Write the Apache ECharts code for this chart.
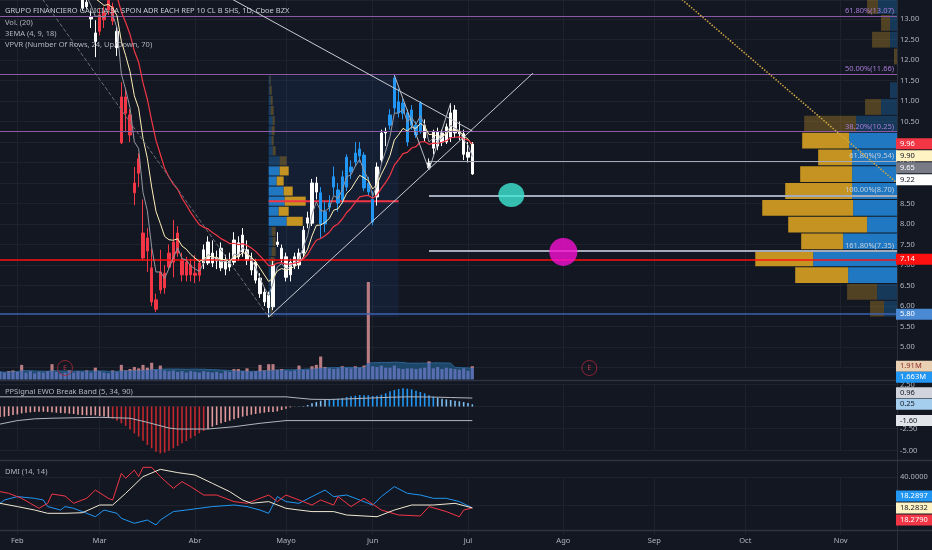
<!DOCTYPE html>
<html><head><meta charset="utf-8">
<script src="https://cdn.jsdelivr.net/npm/echarts@6.0.0/dist/echarts.min.js"></script>
<style>html,body{margin:0;padding:0;background:#131722;}#c{width:932px;height:550px;}</style>
</head><body><div id="c"></div>
<script>
// ---------------- DATA ----------------
const HOLIDAYS = ['2020-02-17','2020-04-10','2020-05-25','2020-07-03','2020-09-07'];
const AXIS_START = '2020-01-28', AXIS_END = '2020-11-19';
const MONTH_NAMES = ['Ene','Feb','Mar','Abr','Mayo','Jun','Jul','Ago','Sep','Oct','Nov','Dic'];

// [open, close, low, high] from 2020-01-28 to 2020-07-02
const ohlc = [
[15.6,15.9,15.4,16.1],[15.9,15.5,15.3,16.0],[15.4,15.2,14.9,15.5],[15.2,14.8,14.6,15.4],[14.8,15.1,14.7,15.3],
[15.1,15.4,15.0,15.6],[15.4,15.0,14.9,15.5],[15.0,14.7,14.5,15.1],[14.7,14.9,14.5,15.1],[14.9,14.6,14.4,15.0],
[14.6,14.8,14.5,15.0],[14.8,14.5,14.3,14.9],[14.5,14.3,14.1,14.7],[14.3,14.6,14.2,14.8],[14.6,14.4,14.2,14.7],
[14.4,14.1,13.9,14.5],[14.1,13.95,13.8,14.3],[13.95,13.8,13.6,14.1],[13.8,13.7,13.55,14.0],[13.7,13.27,13.2,13.8],
[13.3,13.41,13.25,13.55],[13.05,13.0,12.78,13.2],[12.45,12.66,12.07,12.97],[12.7,13.1,12.6,13.25],[13.15,12.98,12.78,13.3],
[13.22,13.45,13.1,13.6],[13.3,12.95,12.85,13.4],[12.7,12.3,12.1,12.8],[11.1,9.98,9.95,11.46],[11.1,10.7,10.24,11.3],
[10.66,10.17,10.0,10.8],[9.0,8.76,8.46,9.39],[9.24,9.59,8.9,9.73],[7.78,7.17,7.1,8.6],[7.34,7.66,6.83,7.9],
[6.93,6.1,6.0,7.4],[6.15,5.92,5.85,6.3],[6.39,6.83,6.3,7.37],[6.8,6.44,6.3,7.0],[6.95,7.29,6.9,7.5],
[7.07,7.56,6.7,8.1],[7.29,7.78,7.2,7.95],[7.12,6.76,6.6,7.3],[6.75,7.07,6.6,7.2],[7.0,6.76,6.6,7.15],
[6.75,6.8,6.56,7.24],[7.05,6.75,6.6,7.1],[7.05,7.37,6.9,7.5],[7.05,7.56,7.0,7.7],[7.29,7.05,6.95,7.6],
[7.1,7.17,6.9,7.35],[7.41,6.93,6.85,7.55],[6.9,7.12,6.75,7.25],[7.12,6.95,6.85,7.3],[7.07,7.61,7.0,7.8],
[7.54,7.2,7.1,7.7],[7.32,7.73,7.2,7.9],[7.37,7.12,7.0,7.6],[7.17,6.88,6.75,7.3],[7.07,6.63,6.55,7.15],
[6.68,6.3,6.2,6.8],[6.34,6.1,6.0,6.45],[6.27,5.96,5.73,6.35],[5.98,7.0,5.9,7.1],[7.5,7.56,7.44,7.8],
[7.41,7.15,7.05,7.5],[7.2,6.7,6.6,7.3],[6.76,7.07,6.6,7.15],[6.98,7.2,6.9,7.3],[7.0,7.29,6.9,7.4],
[7.29,7.85,7.2,7.95],[8.02,8.15,7.9,8.3],[8.02,9.0,7.95,9.1],[8.78,9.0,8.6,9.15],[8.76,8.0,7.66,8.9],
[8.0,8.3,7.8,8.55],[8.41,8.51,8.3,8.7],[8.9,9.15,8.7,9.4],[8.83,8.51,8.3,9.0],[8.59,9.15,8.5,9.3],
[8.9,9.63,8.8,9.7],[9.39,9.27,9.1,9.55],[9.51,9.73,9.4,10.0],[9.66,9.83,9.5,10.0],[9.68,8.88,8.8,9.75],
[9.0,8.78,8.7,9.15],[8.6,8.05,7.97,8.8],[8.66,9.39,8.45,9.5],[9.56,10.22,9.5,10.3],[10.22,10.25,9.9,10.35],
[10.41,10.66,10.3,10.8],[10.83,11.56,10.7,11.63],[10.98,10.71,10.6,11.3],[10.7,10.95,10.55,11.05],[10.71,10.0,9.9,10.8],
[10.41,10.78,10.3,10.9],[10.41,10.17,10.1,10.5],[10.25,10.95,10.2,11.0],[10.41,10.1,10.0,10.55],[9.49,9.37,9.32,9.6],
[9.85,10.24,9.7,10.3],[10.24,9.9,9.8,10.35],[10.0,10.22,9.9,10.3],[10.0,10.37,9.95,10.45],[10.12,10.71,10.0,10.95],
[10.78,10.22,10.1,10.9],[10.25,10.2,10.05,10.5],[10.2,9.7,9.56,10.3],[9.63,9.75,9.5,10.0],[9.95,9.22,9.2,10.0]
];
// PPSignal bar state: -1 down trend, 0 neutral, 1 up trend
const barState = [
0,0,0,0,0,0,0,0,0,0, 0,0,0,0,0,0,0,0,0,0, 0,0,0,-1,-1,-1,-1,0,-1,-1,
-1,-1,-1,-1,-1,-1,-1,-1,-1,-1, -1,-1,-1,-1,-1,-1,-1,0,0,0, 0,0,0,0,0,0,0,0,0,0,
0,0,0,0,0,0,0,0,0,0, 0,0,0,0,1,1,1,1,1,1, 1,1,1,1,1,1,1,0,0,0,
1,1,1,1,1,1,1,1,0,0, 0,0,0,0,0,0,0,0,0,0
];
// volume (millions)
const volumes = [
1.1,1.0,1.2,1.3,1.1,2.1,1.0,1.2,0.9,1.1,1.0,1.2,2.2,1.1,0.9,1.0,1.3,1.0,1.2,1.1,
1.3,1.0,1.7,1.2,1.0,0.9,1.3,1.1,2.1,1.3,1.5,1.8,1.6,2.1,1.7,2.4,1.4,2.0,1.3,1.2,
1.3,1.1,1.2,1.0,1.2,1.1,1.0,1.2,1.1,1.0,1.1,0.9,1.2,1.1,1.5,1.5,1.2,1.6,1.1,1.2,
2.1,1.3,2.2,2.2,1.4,1.5,1.3,1.2,1.3,2.0,1.4,1.4,1.9,2.1,3.3,1.8,1.6,1.5,1.6,1.9,
1.7,1.6,1.9,1.7,2.0,14.0,1.9,1.8,2.0,1.7,1.7,2.0,1.6,1.5,1.6,1.6,1.5,1.6,1.7,2.6,
1.6,1.8,1.5,1.7,1.6,1.5,1.4,1.6,1.26,1.91
];
// EWO histogram
const ewo = [
-1.2,-1.15,-1.08,-0.97,-0.9,-0.78,-0.7,-0.66,-0.62,-0.59,
-0.59,-0.62,-0.66,-0.7,-0.74,-0.78,-0.81,-0.85,-0.93,-0.97,
-1.0,-1.0,-1.0,-1.08,-1.15,-1.23,-1.38,-1.61,-1.91,-2.2,
-2.6,-3.05,-3.43,-3.88,-4.37,-4.75,-5.13,-5.32,-5.24,-5.02,
-4.75,-4.49,-4.19,-3.92,-3.62,-3.35,-3.05,-2.78,-2.56,-2.29,
-2.1,-1.91,-1.76,-1.61,-1.46,-1.31,-1.15,-1.04,-0.93,-0.85,
-0.78,-0.7,-0.62,-0.62,-0.55,-0.4,-0.25,-0.1,-0.02,0.02,
0.06,0.17,0.36,0.51,0.66,0.74,0.81,0.85,0.89,0.97,
1.08,1.16,1.23,1.31,1.27,1.27,1.19,1.23,1.34,1.5,
1.72,1.88,1.99,2.06,2.03,1.95,1.8,1.65,1.5,1.27,
1.12,0.97,0.89,0.81,0.74,0.66,0.59,0.51,0.4,0.25
];
const ewoUpper = [[0,1.1],[66,1.1],[69,0.95],[72,0.82],[76,0.8],[80,0.86],[85,0.95],[90,1.05],[94,1.1],[99,1.08],[104,1.02],[109,0.96]];
const ewoLower = [[0,-2.0],[4,-1.6],[8,-1.4],[12,-1.33],[23,-1.23],[30,-1.33],[34,-1.8],[39,-2.45],[41,-2.56],[48,-2.56],[54,-2.3],[60,-1.91],[66,-1.6],[109,-1.6]];
// DMI (bar index, value)
const dmiPlus = [[0,21.5],[1,23.8],[4,26.2],[8,25.0],[10,23.8],[11,19.2],[14,16.8],[15,19.2],[17,18.0],[20,14.5],[22,12.1],[24,16.8],[27,14.5],[28,11.0],[31,7.5],[34,9.8],[36,6.3],[37,9.8],[40,15.7],[43,16.8],[46,18.0],[49,19.2],[54,20.3],[57,19.2],[60,16.8],[62,14.5],[64,26.2],[66,22.7],[69,21.5],[72,26.2],[75,30.8],[77,26.2],[80,27.3],[83,23.8],[86,20.3],[88,26.2],[91,33.2],[94,28.5],[97,27.3],[100,25.0],[103,25.0],[106,22.7],[109,18.2897]];
const dmiMinus = [[0,29.7],[2,28.5],[5,25.0],[7,21.5],[9,18.0],[11,21.5],[12,28.0],[15,26.6],[17,21.5],[20,25.0],[22,30.8],[25,25.0],[26,23.8],[28,42.5],[29,39.0],[31,44.8],[32,40.2],[33,46.7],[35,46.7],[37,40.2],[40,32.0],[42,36.7],[44,33.2],[47,27.3],[50,27.3],[54,22.7],[57,21.5],[60,25.0],[62,27.3],[64,22.7],[66,27.3],[69,23.8],[72,20.3],[74,23.8],[77,20.3],[78,26.2],[81,19.2],[84,25.0],[88,16.8],[92,13.3],[97,12.6],[99,19.2],[103,15.7],[106,12.1],[107,16.8],[109,18.2790]];
const dmiAdx = [[0,21.5],[4,19.2],[8,16.8],[11,14.5],[15,14.5],[19,14.9],[23,20.3],[26,20.3],[29,28.5],[33,40.2],[37,45.3],[41,43.0],[45,41.3],[49,35.5],[53,29.7],[56,23.8],[58,21.5],[62,22.7],[66,18.0],[69,16.8],[72,15.7],[77,15.7],[80,13.3],[87,12.1],[91,16.8],[95,20.3],[100,20.3],[105,21.5],[109,18.2832]];

// VPVR (24 rows from low), relative volumes
const VPVR_LOW = 5.73, VPVR_ROW = 0.41, VPVR_VA = [2, 10];
const vpvrDown = [14,30,53,58,42,79,91,67,52,34,47,52,16,0,0,3,18,9,11,10,8,5,4,3];
const vpvrUp   = [13,20,49,84,54,30,44,45,45,45,48,41,16,7,0,0,7,7,19,15,12,9,6,5];
// Fixed range profile
const FRVP_FROM = '2020-04-27', FRVP_TO = '2020-06-09', FRVP_LOW = 5.73, FRVP_HIGH = 11.63, FRVP_VA = [9, 14];
const frvpUp   = [2,2,3,2,3,2,3,4,3,18,10,16,15,8,11,11,4,3,3,4,2,2,1,1];
const frvpDown = [2,3,2,3,3,4,4,3,4,16,10,21,9,7,9,7,3,2,3,2,3,2,2,1];

// Fibonacci & horizontal levels
const fibRetraceLevels = [13.07, 11.66, 10.25];
const fibRetracePct = ['61.80%','50.00%','38.20%'];
const fibExtLevels = [9.54, 8.70, 7.35];
const fibExtPct = ['61.80%','100.00%','161.80%'];
const FIB_EXT_FROM = '2020-06-18';
const hLevels = [7.14, 5.80];
// trend line drawings [date, price]
const trendDown = [['2020-03-11',14.85],['2020-07-02',10.27]];
const trendUp = [['2020-04-27',5.73],['2020-07-23',11.68]];
const trendDashed = [['2020-02-04',14.2],['2020-04-27',5.73]];
const trendDotted = [['2020-08-31',14.14],['2020-11-19',9.0]];
const zigzag = [['2020-06-08',11.63],['2020-06-18',9.32],['2020-06-25',10.95]];
const cyanMark = [['2020-07-16',8.71]];
const magentaMark = [['2020-08-03',7.32]];
const earnings = ['2020-02-19','2020-08-11'];

// ---------------- BUILD ----------------
function buildDates(){
  const out=[]; let d=new Date(AXIS_START+'T00:00:00Z'); const end=new Date(AXIS_END+'T00:00:00Z');
  while(d<=end){ const wd=d.getUTCDay(); const s=d.toISOString().slice(0,10);
    if(wd!==0&&wd!==6&&!HOLIDAYS.includes(s)) out.push(s);
    d=new Date(d.getTime()+86400000);}
  return out;
}
const dates = buildDates();
const LAST = dates.length-1;
const monthStart = new Set();
dates.forEach((s,i)=>{ if(i>0 && s.slice(5,7)!==dates[i-1].slice(5,7)) monthStart.add(i); });
const ix = s => dates.indexOf(s);
const pts = arr => arr.map(p=>[ix(p[0]), p[1]]);

const FONT = '"Noto Sans","DejaVu Sans",sans-serif';
const BG='#131722', GRID='#1e222d', TXT='#b2b5be';
const RED='#f23645', BLUE='#2196f3', WHITE='#ffffff';
const FIB_PURPLE='#8c5aa5', FIB_PURPLE_TXT='#a77ad6', EXT_LINE='#a3abbb', EXT_TXT='#c5d0de';

const closes = ohlc.map(d=>d[1]);
function ema(arr,p){const a=2/(p+1);const out=[];let e=arr[0];arr.forEach((v,i)=>{e=i?e+a*(v-e):v;out.push(+e.toFixed(4));});return out;}
function sma(arr,p){return arr.map((v,i)=>{const s=arr.slice(Math.max(0,i-p+1),i+1);return +(s.reduce((x,y)=>x+y,0)/s.length).toFixed(4);});}
function bandAt(pairs,i){for(let k=0;k<pairs.length-1;k++){const a=pairs[k],b=pairs[k+1];if(i<=b[0]){return a[1]+(b[1]-a[1])*(i-a[0])/(b[0]-a[0]);}}return pairs[pairs.length-1][1];}
const ema4=ema(closes,4), ema9=ema(closes,9), ema18=ema(closes,18);
const volMA=sma(volumes,20);
const volBelow = volumes.map((v,i)=>Math.min(v,volMA[i]));
const volAbove = volumes.map((v,i)=>Math.max(0,+(v-volMA[i]).toFixed(4)));

const candleData = ohlc.map((d,i)=>{const c=barState[i]<0?RED:(barState[i]>0?BLUE:WHITE);
  return {value:d,itemStyle:{color:c,color0:c,borderColor:c,borderColor0:c}};});
const ewoData = ewo.map((v,i)=>{let c;
  if(v<0){ c = v<bandAt(ewoLower,i) ? '#c2282e' : '#e39a9a'; }
  else { c = v>bandAt(ewoUpper,i) ? '#2196f3' : '#7fbdf0'; }
  return {value:v,itemStyle:{color:c}};});

function xAxisFor(g, showLabel, showSplit){
  return {type:'category', gridIndex:g, data:dates, boundaryGap:false,
    axisLine:{show:false}, axisTick:{show:false},
    axisLabel: showLabel ? {show:true, color:TXT, fontSize:7.5, margin:3, fontFamily:FONT,
       interval:(i)=>monthStart.has(i), formatter:(v)=>MONTH_NAMES[+v.slice(5,7)-1]} : {show:false},
    splitLine:{show:showSplit, interval:(i)=>monthStart.has(i), lineStyle:{color:GRID,width:1}}};
}

function renderVPVR(params, api){
  const cs = params.coordSys; const right = cs.x + cs.width;
  const tot = vpvrUp.map((u,k)=>u+vpvrDown[k]); const maxTot=Math.max(...tot);
  const scale = 0.158*cs.width/maxTot; const ch=[];
  for(let k=0;k<vpvrUp.length;k++){
    const y1=api.coord([0,VPVR_LOW+k*VPVR_ROW])[1], y2=api.coord([0,VPVR_LOW+(k+1)*VPVR_ROW])[1];
    const va = k>=VPVR_VA[0] && k<=VPVR_VA[1];
    const wu=vpvrUp[k]*scale, wd=vpvrDown[k]*scale;
    ch.push({type:'rect',shape:{x:right-wu,y:y2+0.5,width:wu,height:y1-y2-1},style:{fill:va?'#1f78c1':'rgba(31,120,193,0.35)'}});
    ch.push({type:'rect',shape:{x:right-wu-wd,y:y2+0.5,width:wd,height:y1-y2-1},style:{fill:va?'#c49321':'rgba(196,147,33,0.35)'}});
  }
  return {type:'group',children:ch};
}
function renderFRVP(params, api){
  const x0=api.coord([ix(FRVP_FROM),FRVP_LOW])[0], x1=api.coord([ix(FRVP_TO),FRVP_LOW])[0];
  const yl=api.coord([0,FRVP_LOW])[1], yh=api.coord([0,FRVP_HIGH])[1];
  const n=frvpUp.length, rh=(FRVP_HIGH-FRVP_LOW)/n;
  const tot=frvpUp.map((u,k)=>u+frvpDown[k]); const maxTot=Math.max(...tot); const poc=tot.indexOf(maxTot);
  const scale=0.285*(x1-x0)/maxTot;
  const ch=[{type:'rect',shape:{x:x0,y:yh,width:x1-x0,height:yl-yh},style:{fill:'rgba(41,120,230,0.09)'}}];
  for(let k=0;k<n;k++){
    const y1=api.coord([0,FRVP_LOW+k*rh])[1], y2=api.coord([0,FRVP_LOW+(k+1)*rh])[1];
    const va=k>=FRVP_VA[0]&&k<=FRVP_VA[1];
    const wu=frvpUp[k]*scale, wd=frvpDown[k]*scale;
    ch.push({type:'rect',shape:{x:x0,y:y2+0.5,width:wu,height:y1-y2-1},style:{fill:va?'#1f78c1':'rgba(31,120,193,0.35)'}});
    ch.push({type:'rect',shape:{x:x0+wu,y:y2+0.5,width:wd,height:y1-y2-1},style:{fill:va?'#c49321':'rgba(196,147,33,0.35)'}});
  }
  const yp=api.coord([0,FRVP_LOW+(poc+0.5)*rh])[1];
  ch.push({type:'line',shape:{x1:x0,y1:yp,x2:x1,y2:yp},style:{stroke:RED,lineWidth:2}});
  return {type:'group',children:ch};
}

const lbl = (text,color)=>({show:true,position:'insideEndTop',formatter:text,color:color,fontSize:7.5,fontFamily:FONT,distance:[3,1]});
const markLines = [];
fibRetraceLevels.forEach((v,k)=>markLines.push({yAxis:v,lineStyle:{color:FIB_PURPLE,width:1.2,type:'solid',opacity:1},label:lbl(fibRetracePct[k]+'('+v.toFixed(2)+')',FIB_PURPLE_TXT)}));
fibExtLevels.forEach((v,k)=>{const st={lineStyle:{color:EXT_LINE,width:k===0?1:1.8,type:'solid'},label:lbl(fibExtPct[k]+'('+v.toFixed(2)+')',EXT_TXT)};
  markLines.push([Object.assign({coord:[ix(FIB_EXT_FROM),v]},st),Object.assign({coord:[LAST,v]},st)]);});
markLines.push({yAxis:hLevels[0],lineStyle:{color:'#ff1010',width:1.6,type:'solid'},label:{show:false}});
markLines.push({yAxis:hLevels[1],lineStyle:{color:'#3d62b0',width:1.6,type:'solid'},label:{show:false}});

const drawLine = (data,color,type,width)=>({type:'line',xAxisIndex:0,yAxisIndex:0,data:pts(data),showSymbol:false,symbol:'none',silent:true,z:6,
  lineStyle:{color:color,width:width||1,type:type||'solid'}});

const series = [
  {type:'custom',xAxisIndex:0,yAxisIndex:0,renderItem:renderVPVR,data:[[0,VPVR_LOW]],encode:{x:0,y:1},silent:true,z:1},
  {type:'custom',xAxisIndex:0,yAxisIndex:0,renderItem:renderFRVP,data:[[0,FRVP_LOW]],encode:{x:0,y:1},silent:true,z:1},
  {type:'line',xAxisIndex:1,yAxisIndex:1,data:volMA,showSymbol:false,symbol:'none',lineStyle:{width:1,color:'#2b6596'},areaStyle:{color:'#1d4768',opacity:1},silent:true,z:2},
  {type:'bar',xAxisIndex:1,yAxisIndex:1,stack:'vol',data:volBelow,barWidth:'72%',itemStyle:{color:'#5a6db0'},silent:true,z:3},
  {type:'bar',xAxisIndex:1,yAxisIndex:1,stack:'vol',data:volAbove,barWidth:'72%',itemStyle:{color:'#b97c83'},silent:true,z:3},
  {type:'scatter',xAxisIndex:1,yAxisIndex:1,data:earnings.map(s=>[ix(s),0]),symbol:'circle',symbolSize:15,symbolOffset:[0,-11.5],
    itemStyle:{color:'rgba(0,0,0,0)',borderColor:'#a8283a',borderWidth:1},
    label:{show:true,formatter:'E',color:'#d0404f',fontSize:7.5,fontFamily:FONT,position:'inside'},silent:true,z:4},
  {type:'candlestick',xAxisIndex:0,yAxisIndex:0,data:candleData,barWidth:3,z:4,silent:true,
    markLine:{silent:true,symbol:['none','none'],animation:false,data:markLines}},
  {type:'line',xAxisIndex:0,yAxisIndex:0,data:ema4,showSymbol:false,symbol:'none',lineStyle:{color:'#9598a1',width:1},silent:true,z:5},
  {type:'line',xAxisIndex:0,yAxisIndex:0,data:ema9,showSymbol:false,symbol:'none',lineStyle:{color:'#fff0b8',width:1},silent:true,z:5},
  {type:'line',xAxisIndex:0,yAxisIndex:0,data:ema18,showSymbol:false,symbol:'none',lineStyle:{color:RED,width:1.2},silent:true,z:5},
  drawLine(trendDown,'#c9ccd4'),
  drawLine(trendUp,'#c9ccd4'),
  drawLine(trendDashed,'#6b6f7a','dashed'),
  drawLine(trendDotted,'#d2a842','dotted',1.5),
  drawLine(zigzag,'#b8bcc6'),
  {type:'scatter',xAxisIndex:0,yAxisIndex:0,data:pts(cyanMark),symbolSize:[26,24],itemStyle:{color:'#3ee8d4'},silent:true,z:7},
  {type:'scatter',xAxisIndex:0,yAxisIndex:0,data:pts(magentaMark),symbolSize:28,itemStyle:{color:'#f50fd2'},silent:true,z:7},
  {type:'bar',xAxisIndex:2,yAxisIndex:2,data:ewoData,barWidth:1.6,clip:false,silent:true,z:3},
  {type:'line',xAxisIndex:2,yAxisIndex:2,data:ewoUpper,showSymbol:false,symbol:'none',lineStyle:{color:'#b2b5be',width:1},silent:true,z:4},
  {type:'line',xAxisIndex:2,yAxisIndex:2,data:ewoLower,showSymbol:false,symbol:'none',lineStyle:{color:'#b2b5be',width:1},silent:true,z:4},
  {type:'line',xAxisIndex:3,yAxisIndex:3,data:dmiPlus,showSymbol:false,symbol:'none',clip:false,lineStyle:{color:BLUE,width:1},silent:true,z:4,
    markLine:{silent:true,symbol:['none','none'],label:{show:false},lineStyle:{color:GRID,width:1,type:'solid'},data:[{yAxis:40},{yAxis:20}],z:1}},
  {type:'line',xAxisIndex:3,yAxisIndex:3,data:dmiMinus,showSymbol:false,symbol:'none',clip:false,lineStyle:{color:RED,width:1},silent:true,z:4},
  {type:'line',xAxisIndex:3,yAxisIndex:3,data:dmiAdx,showSymbol:false,symbol:'none',clip:false,lineStyle:{color:'#efe8d2',width:1},silent:true,z:4}
];

const txt = (x,y,t,fill)=>({type:'text',x:x,y:y,z:50,silent:true,style:{text:t,fill:fill,fontSize:7.5,fontFamily:FONT,verticalAlign:'middle'}});
const hsep = (y)=>({type:'line',z:40,silent:true,shape:{x1:0,y1:y,x2:932,y2:y},style:{stroke:'#2f3340',lineWidth:1.5}});
const baseGraphic = [
  {type:'line',z:40,silent:true,shape:{x1:897.5,y1:0,x2:897.5,y2:550},style:{stroke:'#2a2e39',lineWidth:1}},
  hsep(380.5), hsep(460.5), hsep(530.5),
  txt(5,11,'GRUPO FINANCIERO GALICIA SA SPON ADR EACH REP 10 CL B SHS, 1D, Cboe BZX','#c8cbd3'),
  txt(5,22.7,'Vol. (20)',TXT), txt(5,34,'3EMA (4, 9, 18)',TXT), txt(5,45.3,'VPVR (Number Of Rows, 24, Up/Down, 70)',TXT),
  txt(5,391.7,'PPSignal EWO Break Band (5, 34, 90)',TXT), txt(5,471.7,'DMI (14, 14)',TXT)
];

const PRICE_MAX = 13 + 19/41;
const option = {
  backgroundColor: BG, animation:false, textStyle:{fontFamily:FONT},
  grid:[
    {left:0,right:35,top:0,height:367.5},
    {left:0,right:35,top:279.5,height:100},
    {left:0,right:35,top:384.5,height:66},
    {left:0,right:35,top:476.9,height:57.1}
  ],
  xAxis:[xAxisFor(0,false,true),xAxisFor(1,false,false),xAxisFor(2,false,true),xAxisFor(3,true,true)],
  yAxis:[
    {type:'value',gridIndex:0,position:'right',min:4.5,max:PRICE_MAX,interval:0.5,axisLine:{show:false},axisTick:{show:false},
      axisLabel:{color:TXT,fontSize:7.5,margin:3,fontFamily:FONT,showMaxLabel:false,formatter:(v)=>(v<5||v>13.2)?'':v.toFixed(2)},splitLine:{lineStyle:{color:GRID,width:1}}},
    {type:'value',gridIndex:1,min:0,max:14.36,show:false,splitLine:{show:false}},
    {type:'value',gridIndex:2,position:'right',min:-5,max:2.5,interval:2.5,axisLine:{show:false},axisTick:{show:false},
      axisLabel:{color:TXT,fontSize:7.5,margin:3,fontFamily:FONT,formatter:(v)=>v.toFixed(2)},splitLine:{lineStyle:{color:GRID,width:1}}},
    {type:'value',gridIndex:3,position:'right',min:0,max:40,interval:20,axisLine:{show:false},axisTick:{show:false},
      axisLabel:{color:TXT,fontSize:7.5,margin:3,fontFamily:FONT,formatter:(v)=>v>0?v.toFixed(4):''},splitLine:{show:false}}
  ],
  series: series,
  graphic: baseGraphic
};
const chart = echarts.init(document.getElementById('c'));
chart.setOption(option);

// value badges on the price scales; mode: 'down' push later badges down, 'up' push upward, 'mid' spread symmetric
function badges(items, axisIdx, gap, mode){
  const arr = items.map(it=>Object.assign({},it,{y:chart.convertToPixel({yAxisIndex:axisIdx},it.v)}));
  arr.sort((a,b)=>a.y-b.y);
  if(mode==='down'){ for(let k=1;k<arr.length;k++){ arr[k].y=Math.max(arr[k].y,arr[k-1].y+gap); } }
  else if(mode==='up'){ for(let k=arr.length-2;k>=0;k--){ arr[k].y=Math.min(arr[k].y,arr[k+1].y-gap); } }
  else { for(let it=0;it<60;it++){for(let k=0;k<arr.length-1;k++){const d=arr[k+1].y-arr[k].y;if(d<gap){const m=(gap-d)/2;arr[k].y-=m;arr[k+1].y+=m;}}} }
  const out=[];
  arr.forEach(b=>{
    out.push({type:'rect',z:60,silent:true,shape:{x:896,y:b.y-5.5,width:36,height:11},style:{fill:b.bg}});
    out.push({type:'text',z:61,silent:true,x:900,y:b.y,style:{text:b.text,fill:b.fg,fontSize:7.5,fontFamily:FONT,verticalAlign:'middle'}});
  });
  return out;
}
const lastIdx = ohlc.length-1;
const g = [].concat(
  badges([
    {v:ema18[lastIdx],text:ema18[lastIdx].toFixed(2),bg:RED,fg:'#fff'},
    {v:ema9[lastIdx],text:ema9[lastIdx].toFixed(2),bg:'#fff3c4',fg:'#131722'},
    {v:ema4[lastIdx],text:ema4[lastIdx].toFixed(2),bg:'#787b86',fg:'#fff'},
    {v:closes[lastIdx],text:closes[lastIdx].toFixed(2),bg:'#ffffff',fg:'#131722'}],0,12,'down'),
  badges([{v:hLevels[0],text:hLevels[0].toFixed(2),bg:'#ff1010',fg:'#fff'}],0,12,'mid'),
  badges([{v:hLevels[1],text:hLevels[1].toFixed(2),bg:'#4a8ad4',fg:'#fff'}],0,12,'mid'),
  badges([
    {v:volumes[lastIdx],text:volumes[lastIdx].toFixed(2)+'M',bg:'#ead0b2',fg:'#8a2b2b'},
    {v:volMA[lastIdx],text:volMA[lastIdx].toFixed(3)+'M',bg:'#2196f3',fg:'#fff'}],1,11,'down'),
  badges([
    {v:ewoUpper[ewoUpper.length-1][1],text:ewoUpper[ewoUpper.length-1][1].toFixed(2),bg:'#d1d4dc',fg:'#131722'},
    {v:ewo[lastIdx],text:ewo[lastIdx].toFixed(2),bg:'#a5cdee',fg:'#131722'},
    {v:ewoLower[ewoLower.length-1][1],text:ewoLower[ewoLower.length-1][1].toFixed(2),bg:'#e1e5ea',fg:'#131722'}],2,11.5,'up'),
  badges([
    {v:dmiPlus[dmiPlus.length-1][1],text:dmiPlus[dmiPlus.length-1][1].toFixed(4),bg:BLUE,fg:'#fff'},
    {v:dmiAdx[dmiAdx.length-1][1],text:dmiAdx[dmiAdx.length-1][1].toFixed(4),bg:'#fff3c4',fg:'#131722'},
    {v:dmiMinus[dmiMinus.length-1][1],text:dmiMinus[dmiMinus.length-1][1].toFixed(4),bg:RED,fg:'#fff'}],3,12,'mid')
);
chart.setOption({graphic: baseGraphic.concat(g)});
</script></body></html>
